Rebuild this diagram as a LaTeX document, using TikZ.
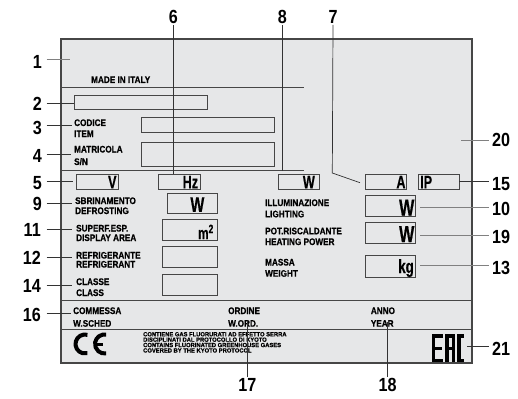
\documentclass[tikz,border=0pt]{standalone}
\usepackage{fontspec}
\setmainfont{Liberation Sans}[FakeStretch=0.86, FakeBold=0.6]
\newfontfamily\labf{Liberation Sans}[FakeStretch=0.85]
\newfontfamily\unitf{Liberation Sans}[FakeStretch=0.7, FakeBold=0.5]
\newfontfamily\tinyf{Liberation Sans}[FakeStretch=0.97, FakeBold=0.8]
\definecolor{plate}{RGB}{230,231,232}
\definecolor{edge}{RGB}{70,70,70}
\begin{document}
\begin{tikzpicture}[x=1pt,y=-1pt,
  lab/.style={font=\labf\bfseries\fontsize{19}{19}\selectfont, inner sep=0pt},
  ptxt/.style={font=\bfseries\fontsize{9.5}{10}\selectfont, inner sep=0pt, anchor=base west},
  tiny/.style={font=\tinyf\bfseries\fontsize{6}{6}\selectfont, inner sep=0pt, anchor=base west},
  fbox/.style={draw=edge, line width=0.8pt, fill=plate, inner sep=0pt, minimum width=#1},
  unit/.style={font=\unitf\bfseries\fontsize{18}{18}\selectfont, inner sep=0pt, anchor=base east},
  lead/.style={draw=black!80, line width=0.7pt},
  leadg/.style={draw=black!50, line width=0.7pt},
  sep/.style={draw=edge, line width=0.8pt}]
\useasboundingbox (0,0) rectangle (518,398);
% plate
\node[draw=edge, line width=1.1pt, fill=plate, inner sep=0pt, minimum width=411pt, minimum height=324pt] (plate) at (266.5,201) {};
% separators
\draw[sep] (61,87.3) coordinate (s1a) -- (304,87.3) coordinate (s1b);
\draw[sep] (61,170.7) coordinate (s2a) -- (304,170.7) coordinate (s2b);
\draw[sep] (plate.west |- 0,300) -- (plate.east |- 0,300);
\draw[sep] (plate.west |- 0,329.3) -- (plate.east |- 0,329.3);
% boxes
\node[fbox=133pt, minimum height=14.5pt] (b2) at (140.5,102.2) {};
\node[fbox=133pt, minimum height=15pt] (bCod) at (207.5,124.5) {};
\node[fbox=133pt, minimum height=24pt] (bMat) at (207.5,154) {};
\node[fbox=42pt, minimum height=15pt] (bV) at (97,181.5) {};
\node[fbox=42pt, minimum height=15pt] (bHz) at (179,181.5) {};
\node[fbox=41pt, minimum height=15pt] (bW8) at (298.5,181.5) {};
\node[fbox=41pt, minimum height=15pt] (bA) at (385.5,181.5) {};
\node[fbox=41pt, minimum height=15pt] (bIP) at (438.5,181.5) {};
\node[fbox=50pt, minimum height=20pt] (bWd) at (192,203.3) {};
\node[fbox=55pt, minimum height=20.7pt] (bM2) at (189.5,229.7) {};
\node[fbox=55pt, minimum height=21.3pt] (bRef) at (189.5,256.7) {};
\node[fbox=55pt, minimum height=20.7pt] (bCl) at (189.5,284.7) {};
\node[fbox=50pt, minimum height=21pt] (bWl) at (390,206.2) {};
\node[fbox=50pt, minimum height=21pt] (bWh) at (390,232.5) {};
\node[fbox=50pt, minimum height=21.3pt] (bKg) at (390,266.3) {};
% units
\node[unit] (uV) at (116.7,188.3) {V};
\node[unit] (uHz) at (198.3,188.3) {Hz};
\node[unit] (uW8) at (315,188.3) {W};
\node[unit] (uA) at (405.7,188.3) {A};
\node[unit, anchor=base west] (uIP) at (420,188.3) {IP};
\node[unit, font=\unitf\bfseries\fontsize{21}{21}\selectfont] (uWd) at (204.5,211.8) {W};
\node[unit, font=\unitf\bfseries\fontsize{17}{17}\selectfont] (uM2) at (213.5,239) {m\raisebox{0.35em}{\fontsize{12}{12}\selectfont 2}};
\node[unit, font=\unitf\bfseries\fontsize{23}{23}\selectfont] (uWl) at (414.5,215.5) {W};
\node[unit, font=\unitf\bfseries\fontsize{23}{23}\selectfont] (uWh) at (414.5,242) {W};
\node[unit, font=\unitf\bfseries\fontsize{19}{19}\selectfont] (uKg) at (414,273) {kg};
% plate texts
\node[ptxt] (tMade) at (91,83) {MADE IN ITALY};
\node[ptxt] (tCod) at (74,126) {CODICE};
\node[ptxt] (tItem) at (74,137) {ITEM};
\node[ptxt] (tMat) at (74,152.5) {MATRICOLA};
\node[ptxt] (tSN) at (74,165) {S/N};
\node[ptxt] (tSbr) at (75,204) {SBRINAMENTO};
\node[ptxt] (tDef) at (75,214) {DEFROSTING};
\node[ptxt] (tSup) at (76,231.5) {SUPERF.ESP.};
\node[ptxt] (tDisp) at (76,241) {DISPLAY AREA};
\node[ptxt] (tRef) at (76,258.5) {REFRIGERANTE};
\node[ptxt] (tRefE) at (76,267.5) {REFRIGERANT};
\node[ptxt] (tCla) at (76,285) {CLASSE};
\node[ptxt] (tClaE) at (76,296) {CLASS};
\node[ptxt] (tIll) at (265,206) {ILLUMINAZIONE};
\node[ptxt] (tLig) at (265,217.3) {LIGHTING};
\node[ptxt] (tPot) at (265,234.3) {POT.RISCALDANTE};
\node[ptxt] (tHea) at (265,245) {HEATING POWER};
\node[ptxt] (tMas) at (265,265.5) {MASSA};
\node[ptxt] (tWei) at (265,276.7) {WEIGHT};
\node[ptxt] (tCom) at (73,314) {COMMESSA};
\node[ptxt] (tWs) at (73,326.7) {W.SCHED};
\node[ptxt] (tOrd) at (228,314) {ORDINE};
\node[ptxt] (tWo) at (228,326.7) {W.ORD.};
\node[ptxt] (tAnno) at (370.7,314) {ANNO};
\node[ptxt] (tYear) at (370.7,326.7) {YEAR};
% kyoto
\node[tiny] (k1) at (143,336.3) {CONTIENE GAS FLUORURATI AD EFFETTO SERRA};
\node[tiny] (k2) at (143,341.7) {DISCIPLINATI DAL PROTOCOLLO DI KYOTO};
\node[tiny] (k3) at (143,347.1) {CONTAINS FLUORINATED GREENHOUSE GASES};
\node[tiny] (k4) at (143,352.5) {COVERED BY THE KYOTO PROTOCOL};
% CE mark
\coordinate (ceC) at (85,344);
\coordinate (ceE) at (104.5,344);
\draw[line width=4pt, line cap=butt] ([shift={(75:9.5pt)}]ceC) arc[start angle=75, end angle=285, radius=9.5pt];
\draw[line width=4pt, line cap=butt] ([shift={(80:9.5pt)}]ceE) arc[start angle=80, end angle=280, radius=9.5pt];
\draw[line width=3pt] (95.5,344) -- (103,344);
% EAC mark
\fill (431.7,334.3) rectangle (435.4,362.3);
\fill (431.7,334.3) rectangle (443,337.6);
\fill (431.7,346.6) rectangle (442,349.6);
\fill (431.7,359) rectangle (443,362.3);
\fill (445,334.3) rectangle (448.5,362.3);
\fill (451.5,334.3) rectangle (455,362.3);
\fill (445,334.3) rectangle (455,337.6);
\fill (445,347) rectangle (455,350);
\fill (457.3,334.3) rectangle (460.8,362.3);
\fill (457.3,334.3) rectangle (464,337.6);
\fill (457.3,359) rectangle (464,362.3);
% labels left
\node[lab, anchor=east] (l1) at (42,61.5) {1};
\node[lab, anchor=east] (l2) at (42,104) {2};
\node[lab, anchor=east] (l3) at (42,128) {3};
\node[lab, anchor=east] (l4) at (42,156) {4};
\node[lab, anchor=east] (l5) at (42,183.3) {5};
\node[lab, anchor=east] (l9) at (42,204) {9};
\node[lab, anchor=east] (l11) at (41,230) {11};
\node[lab, anchor=east] (l12) at (41,258) {12};
\node[lab, anchor=east] (l14) at (41,286) {14};
\node[lab, anchor=east] (l16) at (41,315) {16};
% labels right
\node[lab, anchor=west] (l20) at (492,140.3) {20};
\node[lab, anchor=west] (l15) at (492,183.7) {15};
\node[lab, anchor=west] (l10) at (492,209.3) {10};
\node[lab, anchor=west] (l19) at (492,237) {19};
\node[lab, anchor=west] (l13) at (492,268) {13};
\node[lab, anchor=west] (l21) at (492,349) {21};
% labels top / bottom
\node[lab] (l6) at (173.3,16.7) {6};
\node[lab] (l8) at (282.3,16.7) {8};
\node[lab] (l7) at (333,16.7) {7};
\node[lab] (l17) at (247.3,385.3) {17};
\node[lab] (l18) at (387.7,385) {18};
% leader ends
\coordinate (e1) at (70,59);
\coordinate (e3) at (72,125.5);
\coordinate (e4) at (71,154);
\coordinate (e5) at (72.5,181.7);
\coordinate (e9) at (72,203.3);
\coordinate (e11) at (72,229.3);
\coordinate (e12) at (72,257.7);
\coordinate (e14) at (72,285);
\coordinate (e16) at (71,313.3);
\coordinate (e20) at (461,140);
\coordinate (e10) at (420,207.7);
\coordinate (e19) at (420,235.7);
\coordinate (e13) at (420,265.7);
\coordinate (e21) at (467,346.7);
\coordinate (e8) at (282.3,171);
\coordinate (k7) at (332.3,173);
\coordinate (e7) at (360,182.7);
\coordinate (e17) at (247.3,321);
\coordinate (e18) at (387.7,321.7);
% leaders
\draw[leadg] (l1.east |- e1) ++(4.5,0) -- (e1);
\draw[lead] (46.5,103) -- (b2.west |- 0,103);
\draw[lead] (l3.east |- e3) ++(4.5,0) -- (e3);
\draw[lead] (l4.east |- e4) ++(4.5,0) -- (e4);
\draw[lead] (l5.east |- e5) ++(4.5,0) -- (e5);
\draw[lead] (l9.east |- e9) ++(4.5,0) -- (e9);
\draw[lead] (l11.east |- e11) ++(5.5,0) -- (e11);
\draw[lead] (l12.east |- e12) ++(5.5,0) -- (e12);
\draw[lead] (l14.east |- e14) ++(5.5,0) -- (e14);
\draw[lead] (l16.east |- e16) ++(5.5,0) -- (e16);
\draw[leadg] (e20) -- ([xshift=-3pt]l20.west |- e20);
\draw[lead] (bIP.east |- 0,181.7) -- ([xshift=-3pt]l15.west |- 0,181.7);
\draw[leadg] (e10) -- ([xshift=-3pt]l10.west |- e10);
\draw[leadg] (e19) -- ([xshift=-3pt]l19.west |- e19);
\draw[leadg] (e13) -- ([xshift=-3pt]l13.west |- e13);
\draw[lead] (e21) -- ([xshift=-3pt]l21.west |- e21);
\draw[lead] ([yshift=-1.5pt]l6.south) -- (l6 |- bHz.north);
\draw[lead] ([yshift=-1.5pt]l8.south) -- (e8);
\draw[lead] ([yshift=-1.5pt]l7.south) -- (k7) -- (e7);
\draw[lead] ([yshift=1.5pt]l17.north) -- (e17);
\draw[lead] ([yshift=1.5pt]l18.north) -- (e18);
\end{tikzpicture}
\end{document}
